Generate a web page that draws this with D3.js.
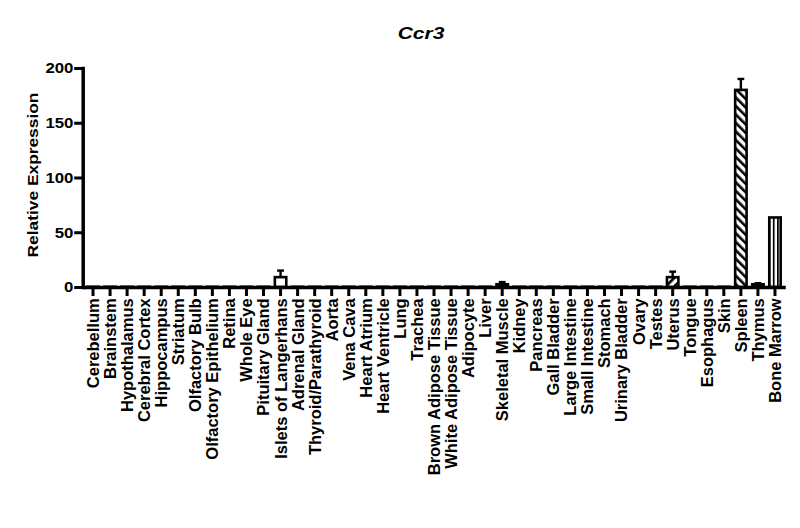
<!DOCTYPE html>
<html>
<head>
<meta charset="utf-8">
<script src="https://cdn.jsdelivr.net/npm/d3@7"></script>
<style>
  html, body { margin: 0; padding: 0; background: #fff; }
  text { font-family: "Liberation Sans", Arial, sans-serif; font-weight: bold; fill: #000; }
</style>
</head>
<body>
<svg id="chart" width="800" height="528"></svg>
<script>
// ---- data ----
const categories = [
  "Cerebellum", "Brainstem", "Hypothalamus", "Cerebral Cortex", "Hippocampus",
  "Striatum", "Olfactory Bulb", "Olfactory Epithelium", "Retina", "Whole Eye",
  "Pituitary Gland", "Islets of Langerhans", "Adrenal Gland", "Thyroid/Parathyroid",
  "Aorta", "Vena Cava", "Heart Atrium", "Heart Ventricle", "Lung", "Trachea",
  "Brown Adipose Tissue", "White Adipose Tissue", "Adipocyte", "Liver",
  "Skeletal Muscle", "Kidney", "Pancreas", "Gall Bladder", "Large Intestine",
  "Small Intestine", "Stomach", "Urinary Bladder", "Ovary", "Testes", "Uterus",
  "Tongue", "Esophagus", "Skin", "Spleen", "Thymus", "Bone Marrow"
];
const values = [
  0.2, 0.2, 0.2, 0.2, 0.2,
  0.2, 0.2, 0.2, 0.2, 0.2,
  0.2, 9, 0.2, 0.2,
  0.2, 0.2, 0.2, 0.2, 0.2, 0.2,
  0.2, 0.2, 0.2, 0.2,
  2.5, 0.2, 0.2, 0.2, 0.2,
  0.2, 0.2, 0.2, 0.2, 0.2, 9,
  0.2, 0.2, 0.2, 180, 2.5, 63.5
];
const errors = [
  0, 0, 0, 0, 0,
  0, 0, 0, 0, 0,
  0, 6, 0, 0,
  0, 0, 0, 0, 0, 0,
  0, 0, 0, 0,
  2, 0, 0, 0, 0,
  0, 0, 0, 0, 0, 5,
  0, 0, 0, 10, 1, 0
];
const yTicks = [0, 50, 100, 150, 200];
const titleText = "Ccr3";
const yLabel = "Relative Expression";

// fill style per category (pattern ids)
const fillFor = {
  "Uterus": "url(#hatchFwd)",
  "Spleen": "url(#hatchBack)",
  "Bone Marrow": "url(#vlines)",
  "Thymus": "#000",
  "Skeletal Muscle": "#000"
};

// ---- drawing ----
const svg = d3.select("#chart");
const defs = svg.append("defs");

function hatch(id, angle) {
  const p = defs.append("pattern")
    .attr("id", id)
    .attr("patternUnits", "userSpaceOnUse")
    .attr("width", 6).attr("height", 6)
    .attr("patternTransform", `rotate(${angle})`);
  p.append("rect").attr("width", 6).attr("height", 6).attr("fill", "#fff");
  p.append("rect").attr("x", 0).attr("y", 0).attr("width", 2.6).attr("height", 6).attr("fill", "#000");
}
hatch("hatchFwd", 45);
hatch("hatchBack", -45);
{
  const p = defs.append("pattern")
    .attr("id", "vlines")
    .attr("patternUnits", "userSpaceOnUse")
    .attr("x", 0)
    .attr("width", 4.2).attr("height", 10);
  p.append("rect").attr("width", 4.2).attr("height", 10).attr("fill", "#fff");
  p.append("rect").attr("x", 0).attr("width", 1.8).attr("height", 10).attr("fill", "#000");
}

const x = d3.scaleBand()
  .domain(categories)
  .range([84.5, 783.5])
  .paddingInner(0.33)
  .paddingOuter(0.165);

const y = d3.scaleLinear().domain([0, 200]).range([287, 68]);

// bars
const bw = x.bandwidth();
const barG = svg.append("g");
categories.forEach((c, i) => {
  const v = values[i];
  barG.append("rect")
    .attr("x", x(c))
    .attr("y", y(v))
    .attr("width", bw)
    .attr("height", y(0) - y(v))
    .attr("fill", fillFor[c] || "#fff")
    .attr("stroke", "#000")
    .attr("stroke-width", 2.6);
  if (errors[i] > 0) {
    const cx = x(c) + bw / 2;
    barG.append("line")
      .attr("x1", cx).attr("x2", cx)
      .attr("y1", y(v)).attr("y2", y(v + errors[i]))
      .attr("stroke", "#000").attr("stroke-width", 2.4);
    barG.append("line")
      .attr("x1", cx - 3.4).attr("x2", cx + 3.4)
      .attr("y1", y(v + errors[i])).attr("y2", y(v + errors[i]))
      .attr("stroke", "#000").attr("stroke-width", 2.4);
  }
});

// y axis
const yAxisG = svg.append("g")
  .attr("transform", "translate(82.7,0)")
  .call(d3.axisLeft(y).tickValues(yTicks).tickSize(8.5).tickSizeOuter(0).tickPadding(1));
yAxisG.select(".domain").attr("stroke-width", 3.5).attr("stroke-linecap", "square");
yAxisG.selectAll(".tick line").attr("stroke-width", 3);
yAxisG.selectAll(".tick text")
  .attr("x", null)
  .attr("transform", "translate(-9.3,0) scale(1.12,1)")
  .attr("text-anchor", "end")
  .style("font-size", "15px")
  .style("font-family", "'Liberation Sans', Arial, sans-serif")
  .style("font-weight", "bold");

// x axis
const xAxisG = svg.append("g")
  .attr("transform", `translate(0,${y(0)})`)
  .call(d3.axisBottom(x).tickSize(9).tickSizeOuter(0));
xAxisG.select(".domain").attr("stroke-width", 3.5).attr("stroke-linecap", "square");
xAxisG.selectAll(".tick line").attr("stroke-width", 3);
xAxisG.selectAll(".tick text")
  .attr("transform", "rotate(-90)")
  .attr("text-anchor", "end")
  .attr("x", -11.3)
  .attr("y", 0)
  .attr("dy", "0.36em")
  .style("font-size", "16.5px")
  .style("font-family", "'Liberation Sans', Arial, sans-serif")
  .style("font-weight", "bold");

// y label
svg.append("text")
  .attr("transform", "translate(37.5,175) rotate(-90) scale(1.12,1)")
  .attr("text-anchor", "middle")
  .style("font-size", "15.5px")
  .text(yLabel);

// title
svg.append("text")
  .attr("transform", "translate(421,38.5) scale(1.27,1)")
  .attr("text-anchor", "middle")
  .style("font-size", "16.5px")
  .style("font-style", "italic")
  .text(titleText);
</script>
</body>
</html>
